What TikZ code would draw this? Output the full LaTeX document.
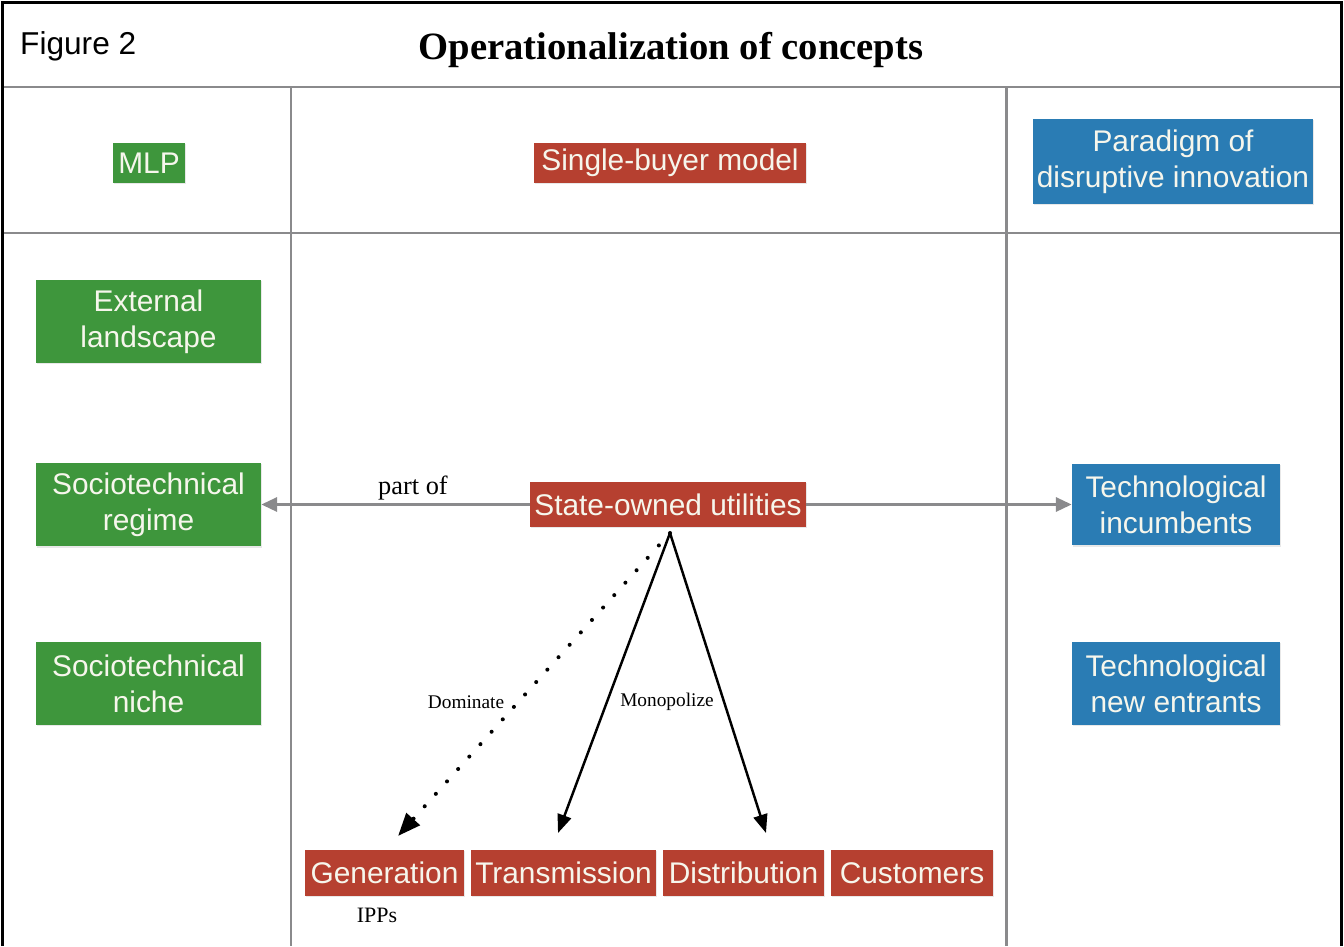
\documentclass[tikz,border=0pt]{standalone}
\usepackage{fontspec}
\setmainfont{Liberation Serif}
\setsansfont{Liberation Sans}
\usetikzlibrary{arrows.meta,shadows}
\definecolor{mlpgreen}{RGB}{62,150,60}
\definecolor{sbred}{RGB}{182,64,48}
\definecolor{pdblue}{RGB}{42,124,180}
\definecolor{rulegray}{RGB}{138,138,140}
\definecolor{boxtext}{RGB}{246,246,236}
\begin{document}
\begin{tikzpicture}[x=0.02cm, y=-0.02cm,
  box/.style={shape=rectangle, inner sep=0pt, align=center, text=boxtext,
    font=\sffamily\fontsize{17}{20.5}\selectfont,
    drop shadow={opacity=0.18, shadow xshift=0.6pt, shadow yshift=-0.8pt}},
  greenbox/.style={box, fill=mlpgreen},
  redbox/.style={box, fill=sbred},
  bluebox/.style={box, fill=pdblue},
  rule/.style={draw=rulegray, line width=1.7pt},
  grayarrow/.style={-{Triangle[length=9pt,width=8pt]}, draw=rulegray, fill=rulegray, line width=1.7pt},
  blackarrow/.style={-{Triangle[length=10.5pt,width=8pt]}, draw=black, line width=1.4pt},
  note/.style={font=\fontsize{11}{13}\selectfont}]
\useasboundingbox (0,0) rectangle (1344,946);
% table
\draw[rule] (3,87) -- (1341,87);
\draw[rule] (3,233) -- (1341,233);
\draw[rule] (291,87) -- (291,946);
\draw[rule] (1006,87) -- (1006,946);
\draw[black, line width=1.7pt] (2.5,946) -- (2.5,2.5) -- (1341.5,2.5) -- (1341.5,946);
\node[anchor=west, font=\sffamily\fontsize{18}{20}\selectfont] (fig) at (14,46) {Figure 2};
\node[font=\bfseries\fontsize{22}{24}\selectfont] (title) at (671,50) {Operationalization of concepts};
% header row
\node[greenbox, minimum width=1.44cm, minimum height=0.8cm] (mlp) at (149,163) {MLP};
\node[redbox, minimum width=5.44cm, minimum height=0.8cm] (sbm) at (670,163) {Single-buyer model};
\node[bluebox, minimum width=5.6cm, minimum height=1.7cm] (pdi) at (1173,161.5) {Paradigm of\\disruptive innovation};
% MLP column
\node[greenbox, minimum width=4.5cm, minimum height=1.66cm] (land) at (148.5,321.5) {External\\landscape};
\node[greenbox, minimum width=4.5cm, minimum height=1.68cm] (regime) at (148.5,504.5) {Sociotechnical\\regime};
\node[greenbox, minimum width=4.5cm, minimum height=1.66cm] (niche) at (148.5,683.5) {Sociotechnical\\niche};
% single-buyer column
\node[redbox, minimum width=5.52cm, minimum height=0.9cm] (sou) at (668,504.5) {State-owned utilities};
\node[redbox, minimum width=3.18cm, minimum height=0.92cm] (gen) at (384.5,873) {Generation};
\node[redbox, minimum width=3.7cm, minimum height=0.92cm] (trans) at (563.5,873) {Transmission};
\node[redbox, minimum width=3.22cm, minimum height=0.92cm] (dist) at (743.5,873) {Distribution};
\node[redbox, minimum width=3.24cm, minimum height=0.92cm] (cust) at (912,873) {Customers};
% disruptive innovation column
\node[bluebox, minimum width=4.16cm, minimum height=1.64cm] (incumb) at (1176,504.5) {Technological\\incumbents};
\node[bluebox, minimum width=4.16cm, minimum height=1.66cm] (entr) at (1176,683.5) {Technological\\new entrants};
% labels
\node[font=\fontsize{15}{17}\selectfont] (partof) at (413,488) {part of};
\node[note] (dom) at (466,702) {Dominate};
\node[note] (mono) at (667,702) {Monopolize};
\node[font=\fontsize{12.5}{14}\selectfont] (ipp) at (377,915) {IPPs};
% arrows
\coordinate (apex) at (670,533);
\coordinate (g-tip) at (398,836);
\coordinate (t-tip) at (558,833);
\coordinate (d-tip) at (766,833);
\path [grayarrow] (sou) edge (regime);
\path [grayarrow] (sou) edge (incumb);
\draw [blackarrow] (apex) -- (t-tip);
\draw [blackarrow] (apex) -- (d-tip);
\draw [-{Triangle[length=13pt,width=10pt]}, line width=2.3pt, line cap=round, dash pattern=on 0pt off 9.5pt] (apex) -- (g-tip);
\end{tikzpicture}
\end{document}
